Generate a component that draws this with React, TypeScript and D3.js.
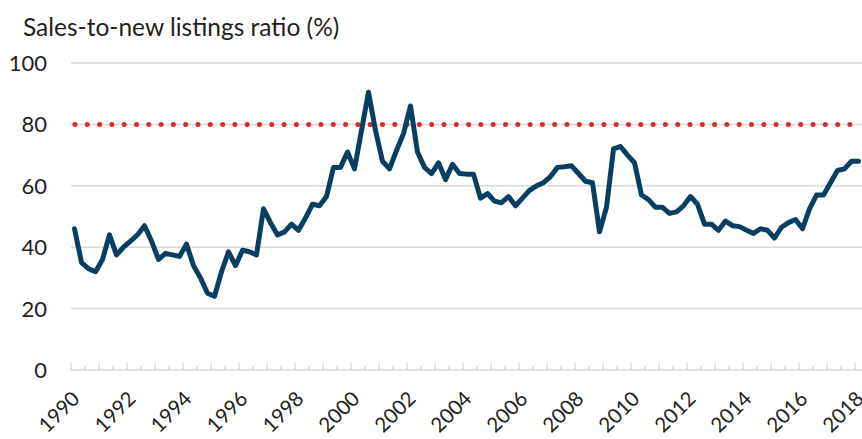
import React from "react";
import * as d3 from "d3";

const WIDTH = 862;
const HEIGHT = 439;
const MARGIN = { top: 63, right: 0, bottom: 69, left: 71 };

// quarterly sales-to-new listings ratio, 1990Q1 .. 2018Q1
const START_YEAR = 1990;
const ratio = [
  46, 35, 33, 32, 36, 44, 37.5, 40, 42, 44, 47, 42, 36, 38, 37.5, 37,
  41, 34, 30, 25, 24, 32, 38.5, 34, 39, 38.5, 37.5, 52.5, 48, 44, 45, 47.5,
  45.5, 49.5, 54, 53.5, 56.5, 66, 66, 71, 65.5, 78, 90.5, 78, 68, 65.5, 71.5, 77,
  86, 71, 66, 64, 67.5, 62, 67, 64, 63.8, 63.8, 56, 57.5, 55, 54.5, 56.5, 53.5,
  56, 58.5, 60, 61, 63, 66, 66.2, 66.5, 64, 61.5, 61, 45, 53, 72, 72.8, 70,
  67.5, 57, 55.5, 53, 53, 51, 51.5, 53.5, 56.5, 54, 47.5, 47.5, 45.5, 48.5, 47, 46.7,
  45.5, 44.5, 46, 45.5, 43, 46.5, 48, 49, 46, 52.5, 57, 57, 61, 65, 65.5, 68,
  68,
];
const quarters = ratio.map((_, i) => `${START_YEAR + Math.floor(i / 4)}Q${(i % 4) + 1}`);

const yTicks = [0, 20, 40, 60, 80, 100];
const yearLabels = [1990, 1992, 1994, 1996, 1998, 2000, 2002, 2004, 2006, 2008, 2010, 2012, 2014, 2016, 2018];
const threshold = 80;

const FONT = "Lato, 'Open Sans', sans-serif";

function RatioChart() {
  const boundsWidth = WIDTH - MARGIN.left - MARGIN.right;
  const boundsBottom = HEIGHT - MARGIN.bottom;

  // category axis: each quarter gets a slot, point sits in the middle
  const xScale = d3
    .scaleLinear()
    .domain([0, quarters.length])
    .range([MARGIN.left, MARGIN.left + boundsWidth]);
  const yScale = d3.scaleLinear().domain([0, 100]).range([boundsBottom, MARGIN.top]);

  const line = d3
    .line<number>()
    .x((_, i) => xScale(i + 0.5))
    .y((d) => yScale(d));

  const tickIdx = d3.range(0, quarters.length + 1, 2);

  return (
    <svg width={WIDTH} height={HEIGHT} style={{ position: "absolute", left: 0, top: 0 }}>
      <rect width={WIDTH} height={HEIGHT} fill="#fff" />
      <text x={23} y={36} fontFamily={FONT} fontSize={24.5} fill="#231f20">
        Sales-to-new listings ratio (%)
      </text>

      {/* gridlines + y labels */}
      {yTicks.map((t) => (
        <g key={t}>
          <line
            x1={MARGIN.left}
            x2={WIDTH}
            y1={yScale(t)}
            y2={yScale(t)}
            stroke="#d9d9d9"
            strokeWidth={1.5}
          />
          <text
            x={47}
            y={yScale(t)}
            dy="0.36em"
            textAnchor="end"
            fontFamily={FONT}
            fontSize={22}
            fill="#231f20"
          >
            {t}
          </text>
        </g>
      ))}

      {/* axis ticks, pointing up */}
      {tickIdx.map((i) => (
        <line
          key={i}
          x1={xScale(i)}
          x2={xScale(i)}
          y1={boundsBottom}
          y2={boundsBottom - (i % 4 === 0 ? 7 : 4)}
          stroke="#d9d9d9"
          strokeWidth={1.5}
        />
      ))}

      {/* x labels */}
      {yearLabels.map((y) => {
        const x = xScale((y - START_YEAR) * 4);
        return (
          <text
            key={y}
            transform={`translate(${x + 10}, ${boundsBottom + 30}) rotate(-45)`}
            textAnchor="end"
            fontFamily={FONT}
            fontSize={20.5}
            fill="#231f20"
          >
            {y}
          </text>
        );
      })}

      {/* 80% threshold */}
      <line
        x1={MARGIN.left + 4}
        x2={WIDTH}
        y1={yScale(threshold)}
        y2={yScale(threshold)}
        stroke="#da2a2a"
        strokeWidth={5}
        strokeLinecap="round"
        strokeDasharray="0 12.3"
      />

      <path
        d={line(ratio) ?? ""}
        fill="none"
        stroke="#063f62"
        strokeWidth={5}
        strokeLinejoin="round"
        strokeLinecap="round"
      />
    </svg>
  );
}

export default function App() {
  return <RatioChart />;
}
